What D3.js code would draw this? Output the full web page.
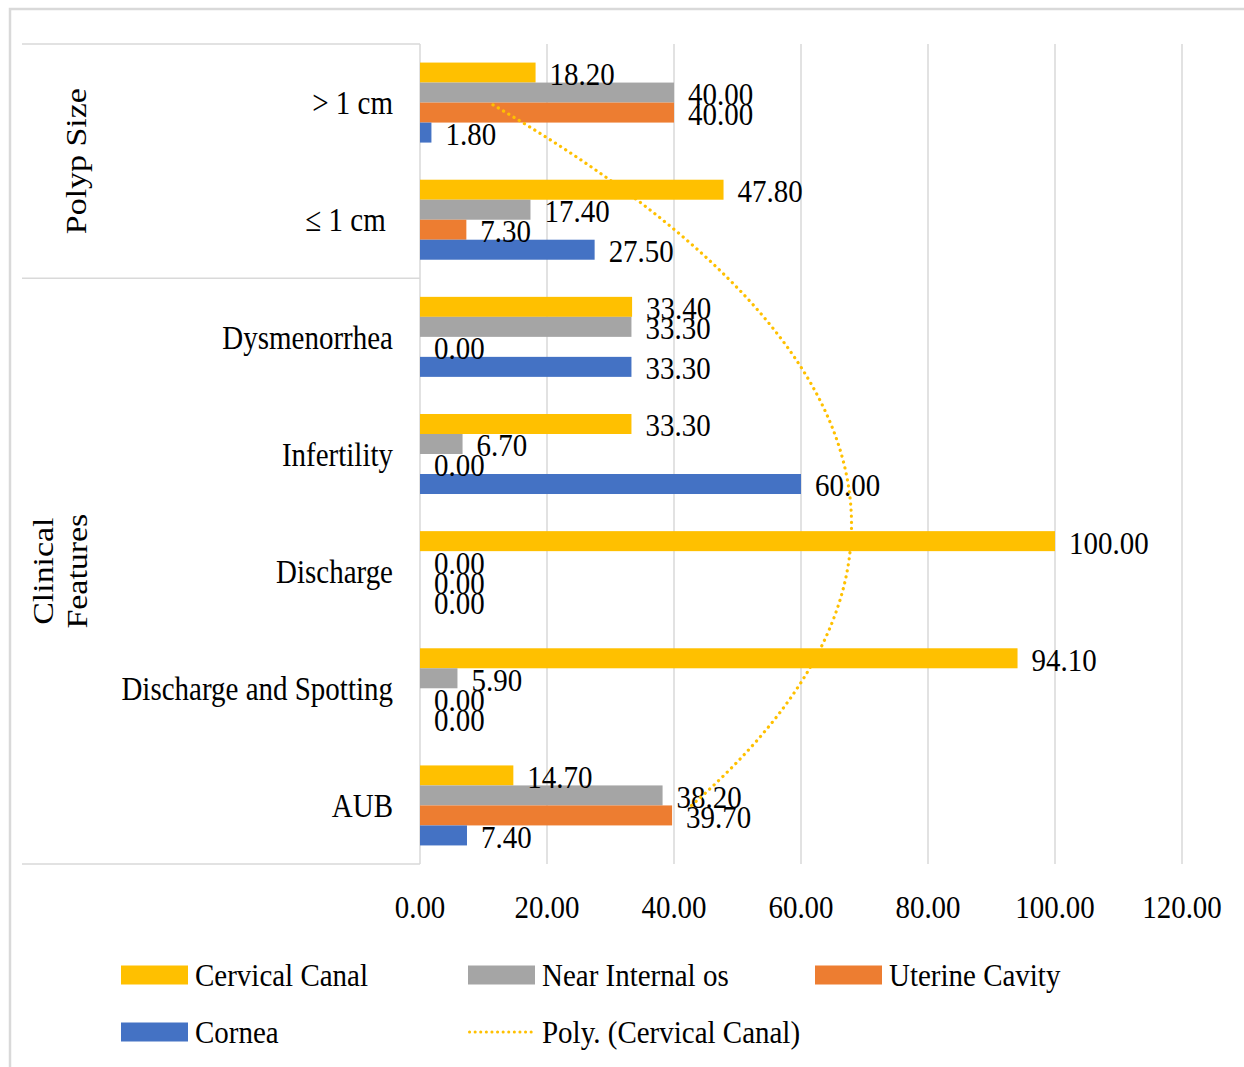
<!DOCTYPE html>
<html>
<head>
<meta charset="utf-8">
<script src="https://cdn.jsdelivr.net/npm/d3@7"></script>
<style>
  html, body { margin: 0; padding: 0; background: #ffffff; }
  svg { display: block; }
  text { font-family: "Liberation Serif", "Times New Roman", serif; fill: #000; white-space: pre; }
</style>
</head>
<body>
<svg id="chart" width="1244" height="1067"></svg>
<script>
// Categories, top to bottom as they appear on the chart
const categories = ["> 1 cm", "\u2264 1 cm\u00a0", "Dysmenorrhea", "Infertility", "Discharge", "Discharge and Spotting", "AUB"];
const groups = [
  { name: "Polyp Size", lines: ["Polyp Size"], members: ["> 1 cm", "\u2264 1 cm\u00a0"] },
  { name: "Clinical Features", lines: ["Clinical", "Features"], members: ["Dysmenorrhea", "Infertility", "Discharge", "Discharge and Spotting", "AUB"] }
];

const seriesNames = ["Cervical Canal", "Near Internal os", "Uterine Cavity", "Cornea"];
const cervicalCanal  = [18.20, 47.80, 33.40, 33.30, 100.00, 94.10, 14.70];
const nearInternalOs = [40.00, 17.40, 33.30, 6.70, 0.00, 5.90, 38.20];
const uterineCavity  = [40.00, 7.30, 0.00, 0.00, 0.00, 0.00, 39.70];
const cornea         = [1.80, 27.50, 33.30, 60.00, 0.00, 0.00, 7.40];
const xTicks = [0, 20, 40, 60, 80, 100, 120];

const seriesValues = [cervicalCanal, nearInternalOs, uterineCavity, cornea];
const colors = ["#FFC000", "#A5A5A5", "#ED7D31", "#4472C4"];
const trendColor = "#FFC000";
const gridColor = "#D9D9D9";

const svg = d3.select("#chart");

// Plot area
const plot = { left: 420, right: 1182, top: 44, bottom: 864 };
const x = d3.scaleLinear().domain([0, 120]).range([plot.left, plot.right]);
const pad = 0.317;
const y = d3.scaleBand().domain(categories).range([plot.top, plot.bottom])
  .paddingInner(pad).paddingOuter(pad / 2);
const ySeries = d3.scaleBand().domain(seriesNames).range([0, y.bandwidth()]);

// Outer frame (right and bottom edges lie beyond the canvas)
svg.append("rect").attr("x", 10).attr("y", 9).attr("width", 1260).attr("height", 1090)
  .attr("fill", "none").attr("stroke", gridColor).attr("stroke-width", 2.5);

// Vertical gridlines
svg.append("g").selectAll("line").data(xTicks.slice(1)).join("line")
  .attr("x1", d => x(d)).attr("x2", d => x(d))
  .attr("y1", plot.top).attr("y2", plot.bottom)
  .attr("stroke", gridColor).attr("stroke-width", 1.5);

// Category axis line and group separators of the two-level axis
svg.append("line").attr("x1", plot.left).attr("x2", plot.left)
  .attr("y1", plot.top).attr("y2", plot.bottom)
  .attr("stroke", gridColor).attr("stroke-width", 1.5);
const step = y.step();
let gStart = plot.top;
const sepYs = [plot.top];
groups.forEach(g => { gStart += g.members.length * step; sepYs.push(gStart); });
svg.append("g").selectAll("line").data(sepYs).join("line")
  .attr("x1", 22).attr("x2", plot.left)
  .attr("y1", d => d).attr("y2", d => d)
  .attr("stroke", gridColor).attr("stroke-width", 1.5);

const FS = 29;

// Category labels
svg.append("g").selectAll("g").data(categories).join("g")
  .attr("transform", d => `translate(393,${y(d) + y.bandwidth() / 2}) scale(1,1.18)`)
  .append("text")
  .attr("text-anchor", "end").attr("dy", "0.34em")
  .attr("font-size", FS)
  .text(d => d);

// Group labels (rotated)
let acc = plot.top;
groups.forEach(g => {
  const cy = acc + g.members.length * step / 2;
  acc += g.members.length * step;
  const baseXs = g.lines.length === 1 ? [86] : [53, 87];
  g.lines.forEach((line, i) => {
    svg.append("g")
      .attr("transform", `translate(${baseXs[i]},${cy}) scale(1,1.17) rotate(-90)`)
      .append("text").attr("text-anchor", "middle").attr("font-size", FS)
      .text(line);
  });
});

// Bars
const barData = [];
categories.forEach((c, ci) => {
  seriesNames.forEach((s, si) => {
    barData.push({ cat: c, series: s, si, value: seriesValues[si][ci] });
  });
});
svg.append("g").selectAll("rect").data(barData).join("rect")
  .attr("x", x(0))
  .attr("y", d => y(d.cat) + ySeries(d.series))
  .attr("width", d => x(d.value) - x(0))
  .attr("height", ySeries.bandwidth())
  .attr("fill", d => colors[d.si]);

// Data labels
svg.append("g").selectAll("g").data(barData).join("g")
  .attr("transform", d => `translate(${x(d.value) + 14},${y(d.cat) + ySeries(d.series) + ySeries.bandwidth() / 2 + 1}) scale(1,1.12)`)
  .append("text")
  .attr("dy", "0.35em").attr("font-size", FS)
  .text(d => d.value.toFixed(2));

// Polynomial (order 2) trendline of Cervical Canal, category index counted from the bottom
const n = categories.length;
const pts = cervicalCanal.map((v, i) => ({ t: n - i, v }));
function quadFit(points) {
  let s0 = 0, s1 = 0, s2 = 0, s3 = 0, s4 = 0, sy = 0, sty = 0, st2y = 0;
  points.forEach(p => {
    const t = p.t;
    s0 += 1; s1 += t; s2 += t * t; s3 += t * t * t; s4 += t * t * t * t;
    sy += p.v; sty += t * p.v; st2y += t * t * p.v;
  });
  const M = [[s0, s1, s2, sy], [s1, s2, s3, sty], [s2, s3, s4, st2y]];
  for (let i = 0; i < 3; i++) {
    for (let k = i + 1; k < 3; k++) {
      const f = M[k][i] / M[i][i];
      for (let j = i; j < 4; j++) M[k][j] -= f * M[i][j];
    }
  }
  const c = [0, 0, 0];
  for (let i = 2; i >= 0; i--) {
    let s = M[i][3];
    for (let j = i + 1; j < 3; j++) s -= M[i][j] * c[j];
    c[i] = s / M[i][i];
  }
  return t => c[0] + c[1] * t + c[2] * t * t;
}
const fit = quadFit(pts);
const tToY = d3.scaleLinear().domain([1, n])
  .range([y(categories[n - 1]) + y.bandwidth() / 2, y(categories[0]) + y.bandwidth() / 2]);
const trendPts = d3.range(1, n + 0.001, 0.05).map(t => [x(fit(t)), tToY(t)]);
svg.append("path")
  .attr("d", d3.line()(trendPts))
  .attr("fill", "none").attr("stroke", trendColor)
  .attr("stroke-width", 3.2).attr("stroke-linecap", "round")
  .attr("stroke-dasharray", "0.1 6");

// X axis tick labels
svg.append("g").selectAll("g").data(xTicks).join("g")
  .attr("transform", d => `translate(${x(d)},907) scale(1,1.12)`)
  .append("text")
  .attr("text-anchor", "middle").attr("dy", "0.35em").attr("font-size", FS)
  .text(d => d.toFixed(2));

// Legend
const legendItems = [
  { label: "Cervical Canal", type: "bar", color: colors[0], col: 0, row: 0 },
  { label: "Near Internal os", type: "bar", color: colors[1], col: 1, row: 0 },
  { label: "Uterine Cavity", type: "bar", color: colors[2], col: 2, row: 0 },
  { label: "Cornea", type: "bar", color: colors[3], col: 0, row: 1 },
  { label: "Poly. (Cervical Canal)", type: "line", color: trendColor, col: 1, row: 1 }
];
const legend = svg.append("g");
legendItems.forEach(item => {
  const lx = 121 + item.col * 347;
  const ly = 975 + item.row * 57;
  if (item.type === "bar") {
    legend.append("rect").attr("x", lx).attr("y", ly - 9.5)
      .attr("width", 67).attr("height", 19).attr("fill", item.color);
  } else {
    legend.append("line").attr("x1", lx + 1.5).attr("x2", lx + 67)
      .attr("y1", ly).attr("y2", ly)
      .attr("stroke", item.color).attr("stroke-width", 3).attr("stroke-linecap", "round")
      .attr("stroke-dasharray", "0.1 5.5");
  }
  legend.append("g").attr("transform", `translate(${lx + 74},${ly}) scale(1,1.12)`)
    .append("text").attr("dy", "0.35em").attr("font-size", FS).text(item.label);
});
</script>
</body>
</html>
